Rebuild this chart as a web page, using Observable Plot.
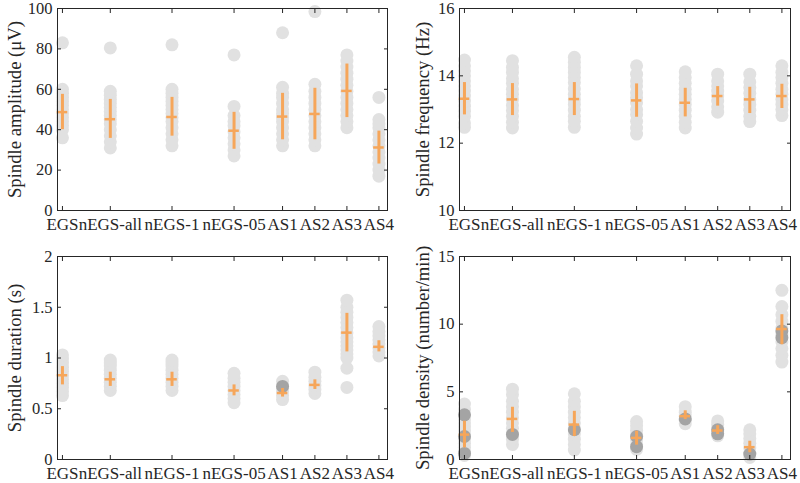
<!DOCTYPE html>
<html>
<head>
<meta charset="utf-8">
<script src="https://cdn.jsdelivr.net/npm/d3@7"></script>
<script src="https://cdn.jsdelivr.net/npm/@observablehq/plot@0.6"></script>
<style>
  html, body { margin: 0; padding: 0; background: #ffffff; }
  #chart { position: relative; width: 800px; height: 483px; background: #ffffff; }
  .panel { position: absolute; }
  #chart svg, #chart svg text { font-family: "Liberation Serif", "Times New Roman", serif !important; }
</style>
</head>
<body>
<div id="chart"></div>
<script>
// ---------- categories ----------
const categories = ["EGS", "nEGS-all", "nEGS-1", "nEGS-05", "AS1", "AS2", "AS3", "AS4"];
// numeric position of each category along the x axis (axis domain 0..10)
const categoryX = [0.15, 1.6, 3.47, 5.35, 6.82, 7.8, 8.77, 9.74];

// ---------- Spindle amplitude (µV) ----------
const amplitudeDots = [
  [36, 40, 42, 44, 46, 48, 50, 52, 54, 56, 58, 60, 83],
  [31, 34, 37, 40, 43, 45, 47, 49, 51, 53, 55, 57, 59, 80.5],
  [32, 35, 38, 41, 44, 46, 48, 50, 52, 54, 56, 58, 60, 82],
  [27, 30, 33, 36, 39, 42, 44, 47, 51.5, 77],
  [32, 35, 38, 41, 44, 46, 48, 50, 53, 56, 58, 61, 88],
  [32, 35, 38, 41, 44, 47, 50, 53, 56, 59, 62.5, 98.5],
  [41, 44, 47, 50, 53, 56, 59, 62, 65, 68, 71, 74, 77],
  [17, 20, 23, 26, 29, 32, 35, 38, 41, 43, 45, 56]
];
const amplitudeMean = [48.7, 45.2, 46.3, 39.5, 46.5, 47.8, 59.2, 31.2];
const amplitudeLo   = [40, 35.7, 36.8, 30.3, 35, 35, 46, 23];
const amplitudeHi   = [57.5, 55, 56, 48.6, 58, 60.5, 72.5, 39.3];

// ---------- Spindle frequency (Hz) ----------
const frequencyDots = [
  [12.47, 12.6, 12.8, 12.95, 13.1, 13.25, 13.4, 13.55, 13.7, 13.85, 14.0, 14.15, 14.3, 14.47],
  [12.45, 12.62, 12.8, 12.97, 13.12, 13.3, 13.45, 13.6, 13.78, 13.92, 14.1, 14.25, 14.45],
  [12.47, 12.65, 12.8, 12.98, 13.15, 13.3, 13.45, 13.62, 13.8, 13.95, 14.1, 14.25, 14.4, 14.55],
  [12.27, 12.45, 12.65, 12.85, 13.0, 13.2, 13.35, 13.5, 13.7, 13.85, 14.05, 14.3],
  [12.45, 12.62, 12.8, 12.98, 13.15, 13.3, 13.45, 13.6, 13.78, 13.95, 14.12],
  [12.92, 13.08, 13.25, 13.4, 13.55, 13.7, 13.85, 14.05],
  [12.64, 12.8, 12.98, 13.15, 13.3, 13.48, 13.65, 13.82, 14.05],
  [12.82, 13.0, 13.15, 13.3, 13.45, 13.6, 13.78, 13.95, 14.1, 14.3]
];
const frequencyMean = [13.32, 13.3, 13.31, 13.27, 13.2, 13.4, 13.3, 13.4];
const frequencyLo   = [12.84, 12.82, 12.82, 12.77, 12.78, 13.1, 12.88, 13.03];
const frequencyHi   = [13.8, 13.77, 13.8, 13.76, 13.63, 13.68, 13.66, 13.75];

// ---------- Spindle duration (s) ----------
const durationDots = [
  [0.63, 0.67, 0.71, 0.75, 0.79, 0.83, 0.87, 0.91, 0.95, 0.99, 1.03],
  [0.68, 0.72, 0.76, 0.8, 0.84, 0.88, 0.92, 0.95, 0.98],
  [0.68, 0.72, 0.76, 0.8, 0.84, 0.88, 0.92, 0.95, 0.98],
  [0.56, 0.6, 0.64, 0.68, 0.72, 0.76, 0.8, 0.85],
  [0.59, 0.63, 0.67, 0.7, 0.77],
  [0.65, 0.69, 0.73, 0.77, 0.81, 0.86],
  [0.71, 0.9, 1.0, 1.04, 1.08, 1.12, 1.16, 1.2, 1.25, 1.3, 1.35, 1.4, 1.45, 1.5, 1.57],
  [1.02, 1.06, 1.1, 1.14, 1.18, 1.22, 1.26, 1.31]
];
const durationDark = [[], [], [], [], [0.72], [], [], []];
const durationMean = [0.83, 0.79, 0.79, 0.68, 0.655, 0.735, 1.25, 1.11];
const durationLo   = [0.735, 0.72, 0.72, 0.627, 0.615, 0.69, 1.06, 1.06];
const durationHi   = [0.915, 0.86, 0.86, 0.735, 0.7, 0.785, 1.44, 1.17];

// ---------- Spindle density (number/min) ----------
const densityDots = [
  [0.3, 0.6, 0.9, 1.2, 1.5, 1.8, 2.1, 2.4, 2.7, 3.0, 3.3, 3.7, 4.1],
  [1.1, 1.5, 1.9, 2.3, 2.7, 3.1, 3.5, 3.9, 4.3, 4.8, 5.2],
  [0.7, 1.1, 1.5, 1.9, 2.3, 2.7, 3.1, 3.5, 3.9, 4.3, 4.85],
  [0.75, 1.1, 1.45, 1.8, 2.15, 2.5, 2.8],
  [2.65, 2.9, 3.2, 3.5, 3.9],
  [1.75, 2.05, 2.35, 2.6, 2.85],
  [0.15, 0.5, 0.85, 1.2, 1.55, 1.9, 2.2],
  [7.2, 7.7, 8.2, 8.7, 9.2, 9.7, 10.2, 10.7, 11.3, 12.5]
];
const densityDark = [
  [0.45, 1.7, 3.3],
  [1.85],
  [2.2],
  [0.95, 1.7],
  [3.0],
  [1.9, 2.2],
  [0.4],
  [9.0, 9.5]
];
const densityMean = [1.84, 3.0, 2.58, 1.6, 3.2, 2.14, 0.91, 9.64];
const densityLo   = [0.86, 2.0, 1.7, 1.06, 2.95, 1.85, 0.5, 8.48];
const densityHi   = [2.83, 3.86, 3.56, 2.09, 3.6, 2.5, 1.35, 10.7];

// ---------- tick values ----------
const amplitudeTicks = [0, 20, 40, 60, 80, 100];
const frequencyTicks = [10, 12, 14, 16];
const durationTicks  = [0, 0.5, 1, 1.5, 2];
const densityTicks   = [0, 5, 10, 15];

// ---------- styles ----------
const ORANGE = "#f6a65a";
const LIGHT = "#e1e1e1";
const DARK = "#a4a4a4";
const INK = "#262626";
const FONT = "Liberation Serif, Times New Roman, serif";

function flatten(groups) {
  const out = [];
  (groups || []).forEach((vals, i) => vals.forEach(v => out.push({x: categoryX[i], y: v})));
  return out;
}

function makePanel(cfg) {
  const light = flatten(cfg.dots);
  const dark = flatten(cfg.dark);
  const stats = categories.map((c, i) => ({x: categoryX[i], mean: cfg.mean[i], lo: cfg.lo[i], hi: cfg.hi[i]}));
  return Plot.plot({
    width: cfg.width,
    height: cfg.height,
    marginLeft: cfg.ml, marginRight: cfg.mr, marginTop: cfg.mt, marginBottom: cfg.mb,
    style: {fontFamily: FONT, fontSize: "17px", color: INK, background: "white", overflow: "visible"},
    x: {domain: [0, 10], axis: null},
    y: {domain: cfg.yDomain, axis: null},
    marks: [
      Plot.dot(light, {x: "x", y: "y", r: 6.5, fill: LIGHT}),
      Plot.dot(dark, {x: "x", y: "y", r: 6.5, fill: DARK}),
      Plot.ruleX(stats, {x: "x", y1: "lo", y2: "hi", stroke: ORANGE, strokeWidth: 3}),
      Plot.ruleY(stats, {y: "mean", x1: d => d.x - 0.16, x2: d => d.x + 0.16, stroke: ORANGE, strokeWidth: 2.5}),
      Plot.frame({stroke: INK, strokeWidth: 1}),
      Plot.axisX(categoryX, {anchor: "bottom", label: null, tickSize: -4, tickPadding: 11, stroke: INK,
        tickFormat: d => categories[categoryX.indexOf(d)], fontSize: 17, fill: INK}),
      Plot.axisX(categoryX, {anchor: "top", label: null, tickSize: -4, tickFormat: () => "", stroke: INK}),
      Plot.axisY(cfg.yTicks, {anchor: "left", label: null, tickSize: -4, tickPadding: 9, stroke: INK,
        tickFormat: d => String(d), fontSize: 16.5, fill: INK}),
      Plot.axisY(cfg.yTicks, {anchor: "right", label: null, tickSize: -4, tickFormat: () => "", stroke: INK}),
      Plot.text([cfg.label], {text: d => d, frameAnchor: "left", textAnchor: "middle", lineAnchor: "middle",
        dx: cfg.labelDx, rotate: -90, fontSize: 18.7, fill: INK, fontFamily: FONT})
    ]
  });
}

const panels = [
  {left: 0, top: 0, width: 400, height: 240, ml: 57, mr: 13, mt: 8, mb: 30, labelDx: -42,
   dots: amplitudeDots, mean: amplitudeMean, lo: amplitudeLo, hi: amplitudeHi,
   yDomain: [0, 100], yTicks: amplitudeTicks, label: "Spindle amplitude (μV)"},
  {left: 400, top: 0, width: 400, height: 240, ml: 59, mr: 10, mt: 8, mb: 30, labelDx: -36,
   dots: frequencyDots, mean: frequencyMean, lo: frequencyLo, hi: frequencyHi,
   yDomain: [10, 16], yTicks: frequencyTicks, label: "Spindle frequency (Hz)"},
  {left: 0, top: 240, width: 400, height: 243, ml: 57, mr: 13, mt: 16, mb: 24, labelDx: -42,
   dots: durationDots, dark: durationDark, mean: durationMean, lo: durationLo, hi: durationHi,
   yDomain: [0, 2], yTicks: durationTicks, label: "Spindle duration (s)"},
  {left: 400, top: 240, width: 400, height: 243, ml: 59, mr: 10, mt: 16, mb: 24, labelDx: -36,
   dots: densityDots, dark: densityDark, mean: densityMean, lo: densityLo, hi: densityHi,
   yDomain: [0, 15], yTicks: densityTicks, label: "Spindle density (number/min)"}
];

const chart = document.getElementById("chart");
panels.forEach(cfg => {
  const div = document.createElement("div");
  div.className = "panel";
  div.style.left = cfg.left + "px";
  div.style.top = cfg.top + "px";
  div.appendChild(makePanel(cfg));
  chart.appendChild(div);
});
</script>
</body>
</html>
